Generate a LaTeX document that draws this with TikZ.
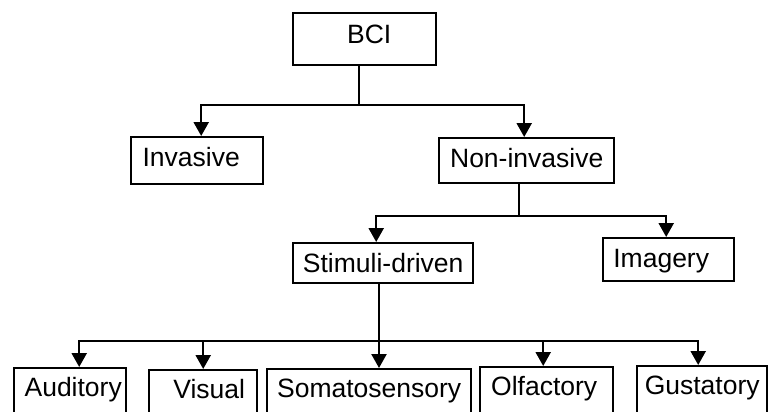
\documentclass[tikz,border=0pt]{standalone}
\usepackage{fontspec}
\setmainfont{Liberation Sans}
\usetikzlibrary{arrows.meta}
\begin{document}
\begin{tikzpicture}[x=1pt,y=-1pt,
  box/.style={draw, line width=2.4pt, inner sep=0pt, anchor=north west,
    font=\fontsize{26.5}{30}\selectfont},
  ln/.style={line width=2.4pt},
  arr/.style={line width=2.4pt, -{Triangle[length=14pt,width=15pt]}}]
\useasboundingbox (0,0) rectangle (768,412);
\clip (0,0) rectangle (768,412);
% level 0
\node[box, minimum width=143pt, text height=30.7pt, text depth=21.3pt] (bci) at (292,12) {\hspace*{9pt}BCI};
% level 1
\node[box, minimum width=132pt, text height=29.7pt, text depth=17.3pt] (inv) at (130,136) {Invasive\hspace*{12pt}};
\node[box, minimum width=175pt, text height=29pt, text depth=16pt] (non) at (438,137) {Non-invasive};
% level 2
\node[box, minimum width=180pt, text height=29.7pt, text depth=10.3pt] (stim) at (292,242) {Stimuli-driven};
\node[box, minimum width=131pt, text height=29.7pt, text depth=13.3pt] (img) at (602,237) {Imagery\hspace*{15pt}};
% level 3
\node[box, minimum width=112pt, text height=28pt, text depth=30pt] (aud) at (13,367) {\hspace*{6pt}Auditory};
\node[box, minimum width=108pt, text height=28pt, text depth=30pt] (vis) at (148,369) {\hspace*{12pt}Visual};
\node[box, minimum width=204pt, text height=28pt, text depth=30pt] (som) at (266,368) {Somatosensory};
\node[box, minimum width=133pt, text height=28pt, text depth=30pt] (olf) at (479,366) {Olfactory\hspace*{5pt}};
\node[box, minimum width=130pt, text height=28pt, text depth=30pt] (gus) at (636,365) {Gustatory};
% junctions
\coordinate (j1) at (359,105);
\coordinate (j2) at (519,216);
\coordinate (j3) at (379,341);
% connectors
\draw[ln] (bci.south -| j1) -- (j1);
\draw[arr] (j1) -| ([xshift=4pt]inv.north);
\draw[arr] (j1) -| ([xshift=-2.5pt]non.north);
\draw[ln] (non.south -| j2) -- (j2);
\draw[arr] (j2) -| ([xshift=-7pt]stim.north);
\draw[arr] (j2) -| ([xshift=-2.5pt]img.north);
\draw[ln] (stim.south -| j3) -- (j3);
\draw[arr] (j3) -| ([xshift=9pt]aud.north);
\draw[arr] (j3) -| (vis.north);
\draw[arr] (j3) -- (j3 |- som.north);
\draw[arr] (j3) -| ([xshift=-3.5pt]olf.north);
\draw[arr] (j3) -| ([xshift=-4pt]gus.north);
\end{tikzpicture}
\end{document}
